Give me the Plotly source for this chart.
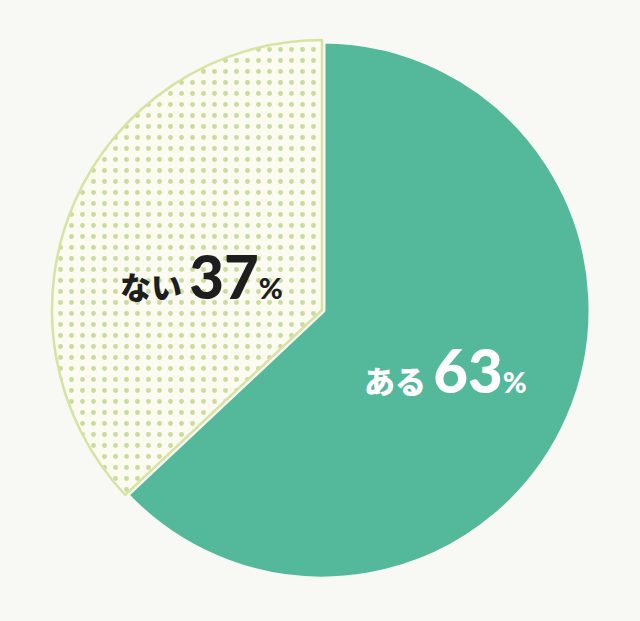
import plotly.graph_objects as go

labels = ["ある", "ない"]
values = [63, 37]
slice_colors = ["#54b89b", "#fbfbf2"]
dot_color = "#cbdb9c"
text_colors = ["#ffffff", "#1e1e1e"]
bg = "#f8f8f4"

fig = go.Figure()
fig.add_trace(go.Pie(
    labels=labels, values=values, sort=False, direction="clockwise", rotation=0,
    textinfo="none", hoverinfo="label+percent", showlegend=False,
    domain=dict(x=[52/640, 592/640], y=[1-580/621, 1-40/621]),
    marker=dict(
        colors=slice_colors,
        line=dict(color=[bg, "#d6e4a2"], width=[7, 2.5]),
        pattern=dict(shape=["", "."], fgcolor=["#54b89b", dot_color],
                     bgcolor=["#54b89b", "#fbfbf2"], size=11, solidity=0.16,
                     fillmode="replace"),
    ),
))

label_pos = [(445, 370), (201, 276)]
for lab, val, col, (px, py) in zip(labels, values, text_colors, label_pos):
    txt = (f"<span style='font-size:31px;font-family:\"Noto Sans CJK JP\"'>{lab}</span> "
           f"<span style='font-size:60px'>{val}</span>"
           f"<span style='font-size:29px'>%</span>")
    fig.add_annotation(x=px/640, y=1-py/621, xref="paper", yref="paper",
                       text=txt, showarrow=False, xanchor="center", yanchor="middle",
                       font=dict(family="Lato, 'Noto Sans CJK JP'", color=col, size=30, weight=900))

fig.update_layout(width=640, height=621, margin=dict(l=0, r=0, t=0, b=0),
                  paper_bgcolor=bg, plot_bgcolor=bg)
fig.write_html("out.html", config={"displayModeBar": False},
               post_script=f"document.body.style.margin='0';document.body.style.background='{bg}';")
